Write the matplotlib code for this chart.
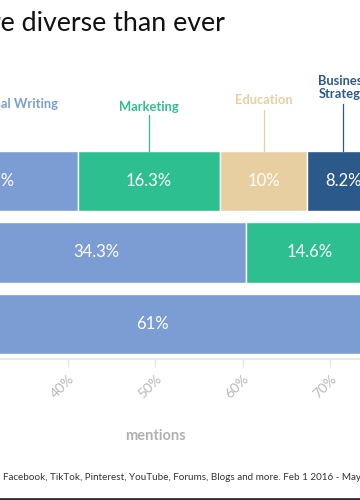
"""
Stacked share-of-mentions bars (cropped view).
"""

import matplotlib.pyplot as plt

plt.rcParams['font.family'] = ['Lato', 'DejaVu Sans']

# Data
rows = ['Row A', 'Row B', 'Row C']          # top to bottom
categories = ['Other', 'Professional Writing', 'Marketing', 'Education', 'Business\nStrategy']
values = {
    'Other':                [21.5, 26.1, 19.2],
    'Professional Writing': [19.6, 34.3, 61.0],
    'Marketing':            [16.3, 14.6, 0.0],
    'Education':            [10.0, 0.0, 0.0],
    'Business\nStrategy':   [8.2, 0.0, 0.0],
}
value_labels = {
    'Other':                ['21.5%', '26.1%', '19.2%'],
    'Professional Writing': ['19.6%', '34.3%', '61%'],
    'Marketing':            ['16.3%', '14.6%', ''],
    'Education':            ['10%', '', ''],
    'Business\nStrategy':   ['8.2%', '', ''],
}
xticks = [0, 10, 20, 30, 40, 50, 60, 70, 80, 90, 100]
xticklabels = ['0%', '10%', '20%', '30%', '40%', '50%', '60%', '70%', '80%', '90%', '100%']

colors = {
    'Other': '#9aa7b8',
    'Professional Writing': '#7b9dd3',
    'Marketing': '#2dbf8f',
    'Education': '#e8cfa1',
    'Business\nStrategy': '#2b5a8a',
}
# label heights above the top bar (data units), leader line tops, small x nudges (px)
label_y = {'Professional Writing': 3.08, 'Marketing': 3.035, 'Education': 3.13, 'Business\nStrategy': 3.30}
line_top = {'Professional Writing': 2.95, 'Marketing': 2.92, 'Education': 2.99, 'Business\nStrategy': 3.08}
label_dx = {'Professional Writing': 7, 'Marketing': 0, 'Education': 0, 'Business\nStrategy': 0}

fig = plt.figure(figsize=(3.6, 5.0), dpi=100)
# axes deliberately wider than the figure: we only see the middle of the chart
ax = fig.add_axes([-0.7815, 0.282, 2.426, 0.4276])

ypos = [2, 1, 0]
left = [0.0, 0.0, 0.0]
bar_h = 0.85
for cat in categories:
    vals = values[cat]
    ax.barh(ypos, vals, left=left, height=bar_h, color=colors[cat],
            edgecolor='white', linewidth=1)
    for i in range(3):
        if vals[i] > 0:
            ax.text(left[i] + vals[i] / 2, ypos[i], value_labels[cat][i],
                    ha='center', va='center', color='white', fontsize=12)
    # category label over the top bar
    if cat != 'Other':
        cx = left[0] + vals[0] / 2
        ax.plot([cx, cx], [ypos[0] + bar_h / 2, line_top[cat]], color=colors[cat],
                lw=0.9, clip_on=False)
        ax.annotate(cat, xy=(cx, label_y[cat]), xytext=(label_dx[cat] * 0.72, 0),
                    textcoords='offset points', ha='center', va='center',
                    color=colors[cat], fontsize=9.3, fontweight='bold',
                    linespacing=1.1, annotation_clip=False)
    left = [l + v for l, v in zip(left, vals)]

ax.set_xlim(0, 100)
ax.set_ylim(-0.49, 2.5)
ax.set_yticks([])
ax.set_xticks(xticks)
ax.set_xticklabels(xticklabels, rotation=45, ha='right', rotation_mode='anchor',
                   color='#b8b8b8', fontsize=10)
ax.tick_params(axis='x', length=6, width=1, color='#e6e6e6', pad=4)
for s in ['top', 'right', 'left']:
    ax.spines[s].set_visible(False)
ax.spines['bottom'].set_color('#ece8e4')
ax.spines['bottom'].set_linewidth(1.5)
ax.set_xlabel('mentions', color='#b0b0b0', fontsize=10.5, fontweight='bold', labelpad=16)

fig.text(225 / 360, 1 - 24 / 500, 'Topics are more diverse than ever', ha='right',
         va='center', fontsize=19.3, color='#111111')
fig.text(3 / 360, 1 - 478 / 500,
         'Facebook, TikTok, Pinterest, YouTube, Forums, Blogs and more. Feb 1 2016 - May 2 2021',
         ha='left', va='center', fontsize=7.1, color='#333333')
fig.add_artist(plt.Line2D([0, 1], [0.002, 0.002], color='#333333', lw=2))

fig.savefig('out.png', dpi=100)
